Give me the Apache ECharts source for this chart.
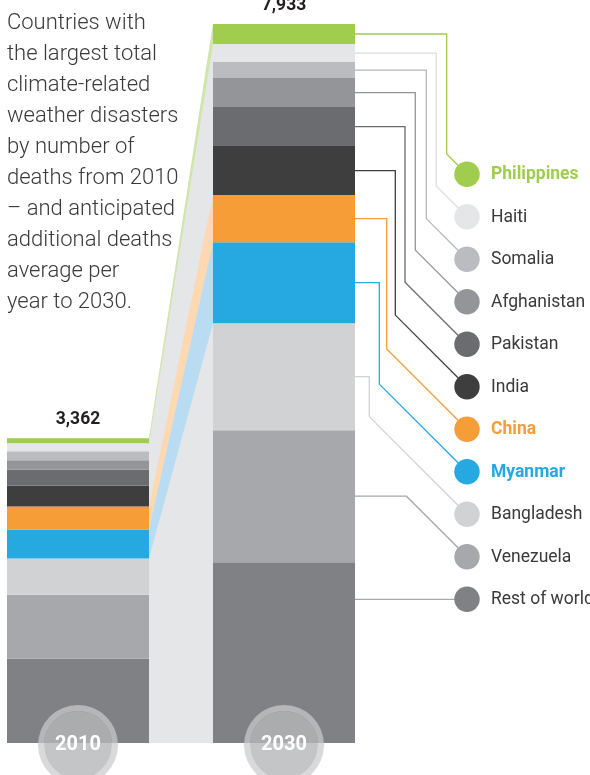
<!DOCTYPE html>
<html>
<head>
<meta charset="utf-8">
<script src="https://cdn.jsdelivr.net/npm/echarts@6/dist/echarts.min.js"></script>
<style>
html,body{margin:0;padding:0;background:#fff;}
#chart{width:590px;height:775px;}
</style>
</head>
<body>
<div id="chart"></div>
<script>
// ---------------- DATA ----------------
const years = ['2010', '2030'];
const countries = ['Philippines', 'Haiti', 'Somalia', 'Afghanistan', 'Pakistan', 'India', 'China', 'Myanmar', 'Bangladesh', 'Venezuela', 'Rest of world'];
const deaths2010 = [55, 88, 100, 100, 177, 232, 254, 321, 398, 708, 929];
const deaths2030 = [221, 199, 177, 320, 430, 541, 519, 894, 1181, 1456, 1995];
const highlighted = ['Philippines', 'China', 'Myanmar'];

// ---------------- STYLE ----------------
const colors = ['#a0cd4e', '#e5e6e8', '#bbbcbf', '#939598', '#6b6c70', '#3e3e3f', '#f79d38', '#25a9e0', '#d1d2d4', '#a7a8ab', '#808184'];
const lineColors = ['#a0cd4e', '#dcdddf', '#b6b7ba', '#939598', '#6b6c70', '#3e3e3f', '#f79d38', '#25a9e0', '#d1d2d4', '#a7a8ab', '#a7a8ab'];
const flowTint = {'Philippines': '#cfe6a8', 'China': '#fdd8b0', 'Myanmar': '#b9dcf2'};
const flowGray = '#e5e6e8';
const BW = 142;
const elbowX = [446.7, 436.3, 426.3, 415.3, 405, 395.3, 386.7, 379.3, 369.3, null, null];
const legendCx = 467, legendY0 = 174.3, legendStep = 42.5, legendR = 12.7, legendTextX = 491;
const textDark = '#3a3a3c';
const FONT = 'Roboto, "Liberation Sans", sans-serif';

const sum = a => a.reduce((s, v) => s + v, 0);
const total10 = sum(deaths2010), total30 = sum(deaths2030);
const yMax = Math.max(total10, total30);

// stacked bar series: bottom first
const series = [];
for (let i = countries.length - 1; i >= 0; i--) {
  series.push({
    type: 'bar', name: countries[i], stack: 'total', barWidth: BW, clip: false,
    itemStyle: {color: colors[i]}, silent: true, z: 2,
    data: [deaths2010[i], deaths2030[i]]
  });
}

function renderFlows(params, api) {
  const children = [];
  const a0 = api.coord([0, 0]), a1 = api.coord([0, total10]);
  const b0 = api.coord([1, 0]), b1 = api.coord([1, total30]);
  const XL = a0[0] + BW / 2, XR = b0[0] - BW / 2;
  children.push({type: 'polygon', shape: {points: [[XL, a0[1]], [XL, a1[1]], [XR, b1[1]], [XR, b0[1]]]},
    style: {fill: flowGray}});
  let c10 = total10, c30 = total30;
  for (let i = 0; i < countries.length; i++) {
    const t10 = api.coord([0, c10]), b10 = api.coord([0, c10 - deaths2010[i]]);
    const t30 = api.coord([1, c30]), b30 = api.coord([1, c30 - deaths2030[i]]);
    const tint = flowTint[countries[i]];
    if (tint) {
      children.push({
        type: 'polygon',
        shape: {points: [[XL, b10[1]], [XL, t10[1]], [XR, t30[1]], [XR, b30[1]]]},
        style: {fill: tint}
      });
    }
    c10 -= deaths2010[i]; c30 -= deaths2030[i];
  }
  return {type: 'group', children};
}

function renderOverlay(params, api) {
  const children = [];
  [total10, total30].forEach((t, k) => {
    const p = api.coord([k, t]);
    children.push({type: 'text', style: {text: t.toLocaleString('en-US'), x: p[0], y: p[1] - 18.5,
      fill: '#231f20', fontSize: 17.5, fontWeight: 'bold', fontFamily: FONT, align: 'center', verticalAlign: 'middle'}});
  });
  years.forEach((y, k) => {
    const p = api.coord([k, 0]);
    const cy = p[1] + 2;
    children.push({type: 'ring', shape: {cx: p[0], cy, r: 40, r0: 34}, style: {fill: 'rgba(202,203,205,0.72)'}});
    children.push({type: 'circle', shape: {cx: p[0], cy, r: 34}, style: {fill: 'rgba(181,182,185,0.8)'}});
    children.push({type: 'text', style: {text: y, x: p[0], y: cy, fill: '#ffffff', fontSize: 20, fontWeight: 'bold',
      fontFamily: FONT, align: 'center', verticalAlign: 'middle'}});
  });
  let c30 = total30;
  for (let i = 0; i < countries.length; i++) {
    const mid = api.coord([1, c30 - deaths2030[i] / 2]);
    const segBottom = api.coord([1, c30 - deaths2030[i]])[1];
    const segTop = api.coord([1, c30])[1];
    c30 -= deaths2030[i];
    const x0 = mid[0] + BW / 2;
    const cy = legendY0 + legendStep * i;
    let pts;
    if (cy >= segTop && cy <= segBottom && mid[1] > cy) {
      pts = [[x0, cy], [legendCx, cy]];
    } else {
      let vx = elbowX[i] != null ? elbowX[i] : -Infinity;
      let dy = cy - (legendCx - vx);
      if (!(dy >= mid[1])) { vx = legendCx - (cy - mid[1]); dy = mid[1]; }
      pts = [[x0, mid[1]], [vx, mid[1]], [vx, dy], [legendCx, cy]];
    }
    children.push({type: 'polyline', shape: {points: pts}, style: {stroke: lineColors[i], lineWidth: 1.3, fill: null}});
    children.push({type: 'circle', shape: {cx: legendCx, cy, r: legendR}, style: {fill: colors[i]}});
    const hl = highlighted.includes(countries[i]);
    children.push({type: 'text', style: {text: countries[i], x: legendTextX, y: cy + 0.5,
      fill: hl ? colors[i] : textDark, fontSize: 17.5, fontWeight: hl ? 'bold' : 'normal',
      fontFamily: FONT, align: 'left', verticalAlign: 'middle'}});
  }
  return {type: 'group', children};
}

series.push({type: 'custom', renderItem: renderFlows, data: [[0, 0]], z: 1, silent: true});
series.push({type: 'custom', renderItem: renderOverlay, data: [[0, 0]], z: 3, silent: true});

const titleLines = ['Countries with', 'the largest total', 'climate-related', 'weather disasters', 'by number of', 'deaths from 2010', '– and anticipated', 'additional deaths', 'average per', 'year to 2030.'];

const chart = echarts.init(document.getElementById('chart'), null, {renderer: 'canvas'});
chart.setOption({
  animation: false,
  backgroundColor: '#ffffff',
  title: {
    text: titleLines.join('\n'), left: 7, top: 8, padding: 0,
    textStyle: {fontSize: 22, lineHeight: 31, fontWeight: 300, color: textDark, fontFamily: FONT}
  },
  grid: {left: 78, right: 306, top: 24, bottom: 32, containLabel: false},
  xAxis: {type: 'category', data: years, boundaryGap: false, show: false},
  yAxis: {type: 'value', min: 0, max: yMax, show: false},
  series
});
</script>
</body>
</html>
